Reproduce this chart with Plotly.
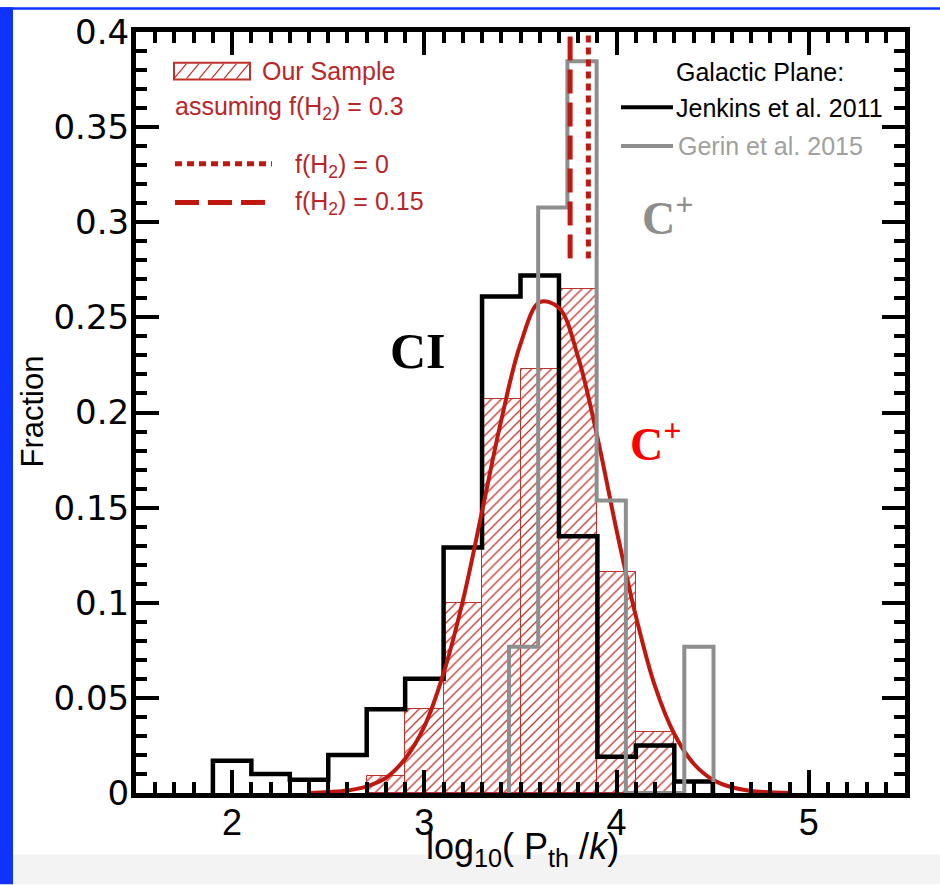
import plotly.graph_objects as go

# ---------------- data ----------------
# Jenkins et al. 2011 (black step histogram), bin width 0.2
jenkins_edges = [1.9, 2.1, 2.3, 2.5, 2.7, 2.9, 3.1, 3.3, 3.5, 3.7, 3.9, 4.1, 4.3, 4.5]
jenkins_frac = [0.017, 0.010, 0.007, 0.020, 0.044, 0.060, 0.129, 0.261, 0.272, 0.135, 0.019, 0.025, 0.006]

# Gerin et al. 2015 (gray step histogram)
gerin_edges = [3.44, 3.592, 3.744, 3.896, 4.048, 4.20, 4.352, 4.504]
gerin_frac = [0.0769, 0.3077, 0.3846, 0.1538, 0.0, 0.0, 0.0769]

# Our sample, f(H2)=0.3 (hatched bars)
sample_edges = [2.7, 2.9, 3.1, 3.3, 3.5, 3.7, 3.9, 4.1, 4.3]
sample_frac = [0.009, 0.044, 0.100, 0.207, 0.223, 0.265, 0.116, 0.032]

# Gaussian fit curve
fit_x = [2.4, 2.5, 2.6, 2.7, 2.8, 2.9, 3.0, 3.1, 3.2, 3.3, 3.4, 3.5, 3.6, 3.7,
         3.8, 3.9, 4.0, 4.1, 4.2, 4.3, 4.4, 4.5, 4.6, 4.7, 4.8, 4.9]
fit_y = [0.0, 0.0005, 0.0013, 0.0035, 0.008, 0.018, 0.035, 0.063, 0.101, 0.148, 0.196,
         0.236, 0.258, 0.255, 0.229, 0.187, 0.138, 0.093, 0.056, 0.031, 0.0155,
         0.007, 0.003, 0.001, 0.0004, 0.0]

# median pressure markers for other f(H2) assumptions
fh2_labels = ["f(H2) = 0", "f(H2) = 0.15"]
fh2_x = [3.853, 3.758]
marker_y = [0.281, 0.4]

x_ticks = [2, 3, 4, 5]
y_ticks = [0, 0.05, 0.1, 0.15, 0.2, 0.25, 0.3, 0.35, 0.4]

# ---------------- styles ----------------
RED = "#c0180f"
RED_BAR = "#c0302a"
RED_TXT = "#b8262a"
GRAY = "#8e8e8e"
GRAY_TXT = "#a0a0a0"
BLUE = "#0f33ff"
SANS = "Liberation Sans, Arial, sans-serif"
SERIF = "Liberation Serif, Times New Roman, serif"


def step_xy(edges, vals):
    xs, ys = [edges[0]], [0]
    for e, v in zip(edges[:-1], vals):
        xs.append(e)
        ys.append(v)
    xs += [edges[-1], edges[-1]]
    ys += [vals[-1], 0]
    return xs, ys


fig = go.Figure()

centers = [(a + b) / 2 for a, b in zip(sample_edges[:-1], sample_edges[1:])]
widths = [b - a for a, b in zip(sample_edges[:-1], sample_edges[1:])]
fig.add_trace(go.Bar(
    x=centers, y=sample_frac, width=widths,
    marker=dict(color="white", line=dict(color=RED_BAR, width=1),
                pattern=dict(shape="/", fgcolor=RED_BAR, bgcolor="white",
                             size=7, solidity=0.18, fillmode="replace")),
    showlegend=False))

jx, jy = step_xy(jenkins_edges, jenkins_frac)
fig.add_trace(go.Scatter(x=jx, y=jy, mode="lines", line=dict(color="black", width=4.5, shape="hv"),
                         showlegend=False))

fig.add_trace(go.Scatter(x=fit_x, y=fit_y, mode="lines", line=dict(color=RED, width=4, shape="spline"),
                         showlegend=False))

gx, gy = step_xy(gerin_edges, gerin_frac)
fig.add_trace(go.Scatter(x=gx, y=gy, mode="lines", line=dict(color=GRAY, width=4, shape="hv"),
                         showlegend=False))

dashes = ["7px,5px", "24px,9px"]
for xv, d in zip(fh2_x, dashes):
    fig.add_trace(go.Scatter(x=[xv, xv], y=marker_y, mode="lines",
                             line=dict(color=RED, width=5, dash=d), showlegend=False))

# ---------------- layout ----------------
L, R, T, B = 136, 905, 25, 793
W, H = R - L, B - T


def px(x):
    return (x - L) / W


def py(y):
    return (B - y) / H


shapes = [
    dict(type="rect", xref="paper", yref="paper", x0=px(0), x1=px(13), y0=py(885), y1=py(0),
         fillcolor=BLUE, line=dict(width=0), layer="below"),
    dict(type="rect", xref="paper", yref="paper", x0=px(0), x1=px(940), y0=py(2.5), y1=py(0),
         fillcolor=BLUE, line=dict(width=0), layer="below"),
    dict(type="rect", xref="paper", yref="paper", x0=px(13), x1=px(940), y0=py(885), y1=py(855),
         fillcolor="#f3f3f3", line=dict(width=0), layer="below"),
    # legend: hatched box
    dict(type="rect", xref="paper", yref="paper", x0=px(174), x1=px(250), y0=py(73), y1=py(56),
         fillcolor="white", line=dict(color=RED_BAR, width=2)),
]
path = ""
for k in range(6):
    xb = 174 + k * 12.5
    path += f"M {px(xb)},{py(72)} L {px(xb + 12.5)},{py(57)} "
shapes.append(dict(type="path", xref="paper", yref="paper", path=path, line=dict(color=RED_BAR, width=1.2)))
# legend lines
shapes += [
    dict(type="line", xref="paper", yref="paper", x0=px(175), x1=px(272), y0=py(158), y1=py(158),
         line=dict(color=RED, width=5, dash="7px,5px")),
    dict(type="line", xref="paper", yref="paper", x0=px(175), x1=px(266), y0=py(197), y1=py(197),
         line=dict(color=RED, width=5, dash="24px,9px")),
    dict(type="line", xref="paper", yref="paper", x0=px(621), x1=px(673), y0=py(101), y1=py(101),
         line=dict(color="black", width=4)),
    dict(type="line", xref="paper", yref="paper", x0=px(621), x1=px(673), y0=py(140), y1=py(140),
         line=dict(color=GRAY, width=4)),
]


def ann(x, y, text, size, color, family=SANS, xanchor="left", **kw):
    return dict(xref="paper", yref="paper", x=px(x), y=py(y), text=text, showarrow=False,
                xanchor=xanchor, yanchor="middle", font=dict(size=size, color=color, family=family), **kw)


annotations = [
    ann(260, 64, "Our Sample", 25, RED_TXT),
    ann(173, 102, "assuming f(H<sub>2</sub>) = 0.3", 25, RED_TXT),
    ann(293, 160, "f(H<sub>2</sub>) = 0", 25, RED_TXT),
    ann(293, 198, "f(H<sub>2</sub>) = 0.15", 25, RED_TXT),
    ann(674, 65, "Galactic Plane:", 25, "black"),
    ann(674, 102, "Jenkins et al. 2011", 25, "black"),
    ann(676, 140, "Gerin et al. 2015", 25, GRAY_TXT),
    ann(418, 347, "<b>CI</b>", 50, "black", family=SERIF, xanchor="center"),
    ann(668, 210, "<b>C<sup>+</sup></b>", 46, GRAY, family=SERIF, xanchor="center"),
    ann(656, 438, "<b>C<sup>+</sup></b>", 46, "#ff0000", family=SERIF, xanchor="center"),
    ann(522, 850, "log<sub>10</sub>( P<sub>th</sub> /<i>k</i>)", 36, "black",
        family="Liberation Sans Narrow, Liberation Sans, sans-serif", xanchor="center"),
    ann(33, 408, "Fraction", 31, "black", xanchor="center", textangle=-90),
]

axis_common = dict(showgrid=False, zeroline=False, showline=True, linecolor="black", linewidth=5,
                   mirror="ticks", ticks="inside", tickcolor="black", tickwidth=4, ticklen=23)

fig.update_layout(
    width=940, height=885,
    margin=dict(l=L, r=940 - R, t=T, b=885 - B, pad=0),
    paper_bgcolor="white", plot_bgcolor="white",
    showlegend=False, bargap=0,
    shapes=shapes, annotations=annotations,
    xaxis=dict(range=[1.5, 5.5], tickmode="array", tickvals=x_ticks,
               ticktext=[str(v) for v in x_ticks], ticklabelstandoff=-6,
               tickfont=dict(size=36, family="Liberation Sans Narrow, Liberation Sans, sans-serif", color="black"),
               minor=dict(dtick=0.1, tick0=0, ticks="inside", ticklen=11, tickwidth=4, tickcolor="black"),
               **axis_common),
    yaxis=dict(range=[0, 0.4], tickmode="array", tickvals=y_ticks,
               ticktext=[f"{v:g}" for v in y_ticks], ticklabelstandoff=-5,
               tickfont=dict(size=34, family="DejaVu Sans, sans-serif", color="black"),
               minor=dict(dtick=0.01, tick0=0, ticks="inside", ticklen=11, tickwidth=4, tickcolor="black"),
               **axis_common),
)

fig.write_html("out.html")
